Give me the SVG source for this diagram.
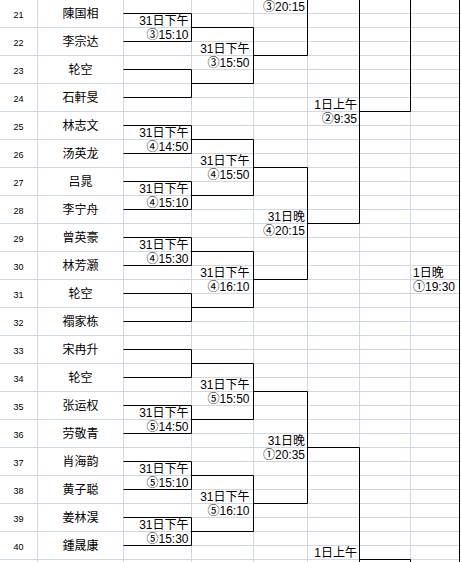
<svg xmlns="http://www.w3.org/2000/svg" width="461" height="562" viewBox="0 0 461 562">
<style>
.bg{fill:#ffffff}
.grid{stroke:#d0d7e5;stroke-width:1;fill:none}
.br{stroke:#000000;stroke-width:1;fill:none}
.num{font-family:"Liberation Sans","Noto Sans CJK SC",sans-serif;font-size:9px;fill:#000;text-anchor:middle}
.name{font-family:"Noto Sans CJK SC","Noto Sans CJK JP",sans-serif;font-size:12px;fill:#000;text-anchor:middle}
.lb{font-family:"Liberation Sans","Noto Sans CJK SC",sans-serif;font-size:12px;fill:#000;text-anchor:end}
.lbl{font-family:"Liberation Sans","Noto Sans CJK SC",sans-serif;font-size:12px;fill:#000;text-anchor:start}
</style>
<rect class="bg" x="0" y="0" width="461" height="562"/>
<g id="grid" class="grid">
<path d="M0,27.5H461M0,55.5H461M0,83.5H461M0,111.5H461M0,139.5H461M0,167.5H461M0,195.5H461M0,223.5H461M0,251.5H461M0,279.5H461M0,307.5H461M0,335.5H461M0,363.5H461M0,391.5H461M0,419.5H461M0,447.5H461M0,475.5H461M0,503.5H461M0,531.5H461M0,559.5H461"/>
<path d="M123.5,13.5H461M123.5,41.5H461M123.5,69.5H461M123.5,97.5H461M123.5,125.5H461M123.5,153.5H461M123.5,181.5H461M123.5,209.5H461M123.5,237.5H461M123.5,265.5H461M123.5,293.5H461M123.5,321.5H461M123.5,349.5H461M123.5,377.5H461M123.5,405.5H461M123.5,433.5H461M123.5,461.5H461M123.5,489.5H461M123.5,517.5H461M123.5,545.5H461"/>
<path d="M37.5,0V562M123.5,0V562M191.5,0V562M253.5,0V562M307.5,0V562M359.5,0V562M410.5,0V562"/>
</g>
<g id="rows">
<g id="p21"><text class="num" x="18.5" y="18">21</text><text class="name" x="80.5" y="18">陳国相</text></g>
<g id="p22"><text class="num" x="18.5" y="46">22</text><text class="name" x="80.5" y="46">李宗达</text></g>
<g id="p23"><text class="num" x="18.5" y="74">23</text><text class="name" x="80.5" y="74">轮空</text></g>
<g id="p24"><text class="num" x="18.5" y="102">24</text><text class="name" x="80.5" y="102">石軒旻</text></g>
<g id="p25"><text class="num" x="18.5" y="130">25</text><text class="name" x="80.5" y="130">林志文</text></g>
<g id="p26"><text class="num" x="18.5" y="158">26</text><text class="name" x="80.5" y="158">汤英龙</text></g>
<g id="p27"><text class="num" x="18.5" y="186">27</text><text class="name" x="80.5" y="186">吕晁</text></g>
<g id="p28"><text class="num" x="18.5" y="214">28</text><text class="name" x="80.5" y="214">李宁舟</text></g>
<g id="p29"><text class="num" x="18.5" y="242">29</text><text class="name" x="80.5" y="242">曾英豪</text></g>
<g id="p30"><text class="num" x="18.5" y="270">30</text><text class="name" x="80.5" y="270">林芳灏</text></g>
<g id="p31"><text class="num" x="18.5" y="298">31</text><text class="name" x="80.5" y="298">轮空</text></g>
<g id="p32"><text class="num" x="18.5" y="326">32</text><text class="name" x="80.5" y="326">禤家栋</text></g>
<g id="p33"><text class="num" x="18.5" y="354">33</text><text class="name" x="80.5" y="354">宋冉升</text></g>
<g id="p34"><text class="num" x="18.5" y="382">34</text><text class="name" x="80.5" y="382">轮空</text></g>
<g id="p35"><text class="num" x="18.5" y="410">35</text><text class="name" x="80.5" y="410">张运权</text></g>
<g id="p36"><text class="num" x="18.5" y="438">36</text><text class="name" x="80.5" y="438">劳敬青</text></g>
<g id="p37"><text class="num" x="18.5" y="466">37</text><text class="name" x="80.5" y="466">肖海韵</text></g>
<g id="p38"><text class="num" x="18.5" y="494">38</text><text class="name" x="80.5" y="494">黄子聪</text></g>
<g id="p39"><text class="num" x="18.5" y="522">39</text><text class="name" x="80.5" y="522">姜林淏</text></g>
<g id="p40"><text class="num" x="18.5" y="550">40</text><text class="name" x="80.5" y="550">鍾晟康</text></g>
</g>
<g id="connectors" class="br">
<path d="M123.5,13.5H191.5V41.5H123.5M191.5,27.5H253.5"/>
<path d="M123.5,69.5H191.5V97.5H123.5M191.5,83.5H253.5"/>
<path d="M123.5,125.5H191.5V153.5H123.5M191.5,139.5H253.5"/>
<path d="M123.5,181.5H191.5V209.5H123.5M191.5,195.5H253.5"/>
<path d="M123.5,237.5H191.5V265.5H123.5M191.5,251.5H253.5"/>
<path d="M123.5,293.5H191.5V321.5H123.5M191.5,307.5H253.5"/>
<path d="M123.5,349.5H191.5V377.5H123.5M191.5,363.5H253.5"/>
<path d="M123.5,405.5H191.5V433.5H123.5M191.5,419.5H253.5"/>
<path d="M123.5,461.5H191.5V489.5H123.5M191.5,475.5H253.5"/>
<path d="M123.5,517.5H191.5V545.5H123.5M191.5,531.5H253.5"/>
<path d="M253.5,27.5V83.5M253.5,55.5H307.5"/>
<path d="M253.5,139.5V195.5M253.5,167.5H307.5"/>
<path d="M253.5,251.5V307.5M253.5,279.5H307.5"/>
<path d="M253.5,363.5V419.5M253.5,391.5H307.5"/>
<path d="M253.5,475.5V531.5M253.5,503.5H307.5"/>
<path d="M307.5,0V55.5"/>
<path d="M307.5,167.5V279.5M307.5,223.5H359.5"/>
<path d="M307.5,391.5V503.5M307.5,447.5H359.5"/>
<path d="M359.5,0V223.5M359.5,111.5H410.5"/>
<path d="M359.5,447.5V562M359.5,559.5H410.5V562"/>
<path d="M410.5,0V111.5"/>
<path d="M459.5,0V562"/>
</g>
<g id="labels">
<text class="lb" x="188.5" y="25">31日下午</text><text class="lb" x="188.5" y="39">③15:10</text>
<text class="lb" x="188.5" y="137">31日下午</text><text class="lb" x="188.5" y="151">④14:50</text>
<text class="lb" x="188.5" y="193">31日下午</text><text class="lb" x="188.5" y="207">④15:10</text>
<text class="lb" x="188.5" y="249">31日下午</text><text class="lb" x="188.5" y="263">④15:30</text>
<text class="lb" x="188.5" y="417">31日下午</text><text class="lb" x="188.5" y="431">⑤14:50</text>
<text class="lb" x="188.5" y="473">31日下午</text><text class="lb" x="188.5" y="487">⑤15:10</text>
<text class="lb" x="188.5" y="529">31日下午</text><text class="lb" x="188.5" y="543">⑤15:30</text>
<text class="lb" x="249.5" y="53">31日下午</text><text class="lb" x="249.5" y="67">③15:50</text>
<text class="lb" x="249.5" y="165">31日下午</text><text class="lb" x="249.5" y="179">④15:50</text>
<text class="lb" x="249.5" y="277">31日下午</text><text class="lb" x="249.5" y="291">④16:10</text>
<text class="lb" x="249.5" y="389">31日下午</text><text class="lb" x="249.5" y="403">⑤15:50</text>
<text class="lb" x="249.5" y="501">31日下午</text><text class="lb" x="249.5" y="515">⑤16:10</text>
<text class="lb" x="305" y="11">③20:15</text>
<text class="lb" x="305" y="221">31日晚</text><text class="lb" x="305" y="235">④20:15</text>
<text class="lb" x="305" y="445">31日晚</text><text class="lb" x="305" y="459">①20:35</text>
<text class="lb" x="357" y="109">1日上午</text><text class="lb" x="357" y="123">②9:35</text>
<text class="lb" x="357" y="557">1日上午</text>
<text class="lbl" x="413" y="277">1日晚</text><text class="lbl" x="413" y="291">①19:30</text>
</g>
</svg>
